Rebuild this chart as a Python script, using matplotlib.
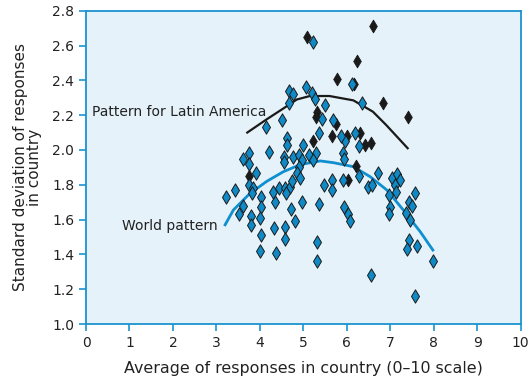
import matplotlib
matplotlib.use("Agg")
import matplotlib.pyplot as plt
import numpy as np

# world sample countries (blue diamonds)
world_x = [4.14, 4.50, 4.63, 4.63, 5.00, 5.28, 5.36, 5.43, 4.20, 3.76,
           3.62, 3.76, 3.91, 3.75, 3.85, 3.82, 3.43, 3.23, 3.62, 4.03,
           4.03, 4.35, 4.30, 4.45, 4.58, 4.70, 4.73, 4.59, 4.56, 4.55,
           4.76, 4.89, 4.96, 4.91, 4.85, 4.93, 5.14, 5.22, 5.48, 4.98,
           5.36, 4.71, 3.51, 3.79, 3.79, 4.01, 4.33, 4.57, 4.58, 4.80,
           4.03, 4.01, 4.37, 5.31, 5.32, 6.56, 5.67, 5.66, 5.91, 5.94,
           5.92, 6.29, 6.48, 6.58, 6.71, 5.94, 6.03, 6.08, 7.05, 7.15,
           7.23, 7.12, 7.14, 6.96, 7.57, 7.44, 7.50, 7.37, 7.46, 7.00,
           6.96, 7.42, 7.38, 7.61, 7.99, 7.56, 5.96, 6.29, 5.23, 4.66,
           4.77, 4.66, 5.06, 5.21, 5.27, 5.50, 6.12, 6.35, 5.68, 5.86,
           6.18]
world_y = [2.13, 2.17, 2.07, 2.03, 2.03, 1.98, 2.10, 2.18, 1.99, 1.98,
           1.95, 1.92, 1.87, 1.80, 1.78, 1.75, 1.77, 1.73, 1.68, 1.73,
           1.67, 1.70, 1.76, 1.78, 1.78, 1.79, 1.82, 1.75, 1.96, 1.93,
           1.96, 1.97, 1.94, 1.90, 1.87, 1.84, 1.97, 1.94, 1.80, 1.70,
           1.69, 1.66, 1.63, 1.62, 1.57, 1.61, 1.55, 1.56, 1.49, 1.59,
           1.51, 1.42, 1.41, 1.47, 1.36, 1.28, 1.83, 1.77, 1.98, 1.95,
           1.83, 1.85, 1.79, 1.80, 1.87, 1.67, 1.63, 1.59, 1.84, 1.86,
           1.83, 1.80, 1.76, 1.74, 1.75, 1.70, 1.68, 1.64, 1.60, 1.67,
           1.63, 1.48, 1.43, 1.45, 1.36, 1.16, 2.05, 2.02, 2.62, 2.34,
           2.32, 2.27, 2.36, 2.33, 2.29, 2.26, 2.38, 2.27, 2.17, 2.08,
           2.10]

# Latin American countries (black diamonds)
latin_x = [5.31, 5.28, 5.22, 3.75, 6.20, 6.02, 6.41, 6.55, 6.84, 7.40,
           6.61, 6.23, 5.77, 6.17, 5.75, 5.66, 6.00, 6.31, 5.09]
latin_y = [2.22, 2.19, 2.05, 1.85, 1.91, 1.83, 2.03, 2.04, 2.27, 2.19,
           2.71, 2.51, 2.41, 2.38, 2.15, 2.08, 2.08, 2.10, 2.65]

# fitted patterns
latin_curve_x = [3.71, 4.15, 4.55, 4.85, 5.15, 5.60, 6.15, 6.60, 6.90, 7.40]
latin_curve_y = [2.10, 2.175, 2.24, 2.29, 2.31, 2.31, 2.285, 2.22, 2.145, 2.01]
world_curve_x = [3.20, 3.39, 3.77, 4.16, 4.54, 4.93, 5.39, 5.69, 6.15, 6.54,
                 6.92, 7.30, 7.69, 7.98]
world_curve_y = [1.57, 1.655, 1.75, 1.82, 1.875, 1.916, 1.937, 1.927, 1.904,
                 1.846, 1.77, 1.655, 1.53, 1.425]

frame_blue = "#1b93d0"
marker_blue = "#0f8ac6"
text_col = "#222222"

plt.rcParams['font.family'] = ['DejaVu Sans']

fig = plt.figure(figsize=(5.3, 3.83), dpi=100)
ax = fig.add_axes([0.1623, 0.154, 0.8201, 0.818])
ax.set_facecolor("#e5f2f9")

ax.scatter(latin_x, latin_y, marker="d", s=42, color="#1a1a1a",
           edgecolor="#1a1a1a", linewidth=0.6, zorder=3)
ax.scatter(world_x, world_y, marker="d", s=46, color=marker_blue,
           edgecolor="#1a1a1a", linewidth=0.7, zorder=3)

ax.plot(latin_curve_x, latin_curve_y, color="#1a1a1a", lw=1.6, zorder=2)
ax.plot(world_curve_x, world_curve_y, color="#0f8fd0", lw=2.0, zorder=2)

ax.text(0.14, 2.218, "Pattern for Latin America", fontsize=10,
        color=text_col, va="center", ha="left")
ax.text(0.83, 1.563, "World pattern", fontsize=10,
        color=text_col, va="center", ha="left")

ax.set_xlim(0, 10)
ax.set_ylim(1.0, 2.8)
ax.set_xticks(np.arange(0, 11, 1))
ax.set_yticks(np.arange(1.0, 2.81, 0.2))
ax.set_yticklabels([f"{v:.1f}" for v in np.arange(1.0, 2.81, 0.2)])

for sp in ax.spines.values():
    sp.set_color(frame_blue)
    sp.set_linewidth(1.3)
ax.tick_params(axis="both", colors=frame_blue, labelcolor=text_col,
               labelsize=10, length=5, width=1.2, direction="out")

ax.set_xlabel("Average of responses in country (0\u201310 scale)",
              fontsize=11.4, color=text_col, labelpad=8)
ax.set_ylabel("Standard deviation of responses\nin country",
              fontsize=11, color=text_col, labelpad=7, linespacing=0.95)

fig.savefig("out.png", dpi=100)
